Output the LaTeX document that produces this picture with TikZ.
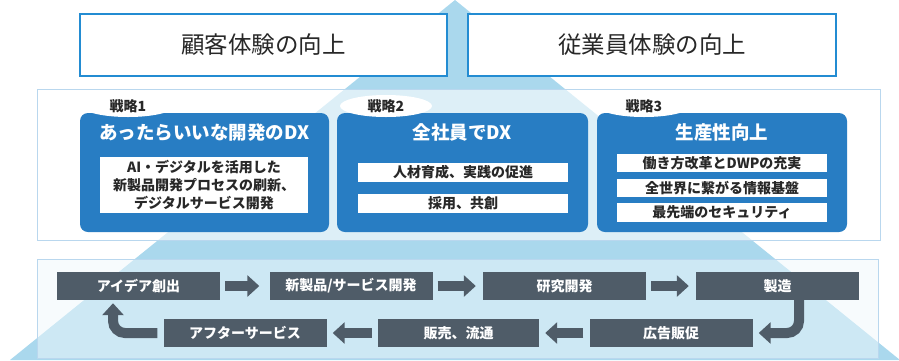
\documentclass[tikz,border=0pt]{standalone}
\usepackage{fontspec}
\setmainfont{Noto Sans CJK JP}
\usetikzlibrary{arrows.meta,shapes.geometric,calc}
\definecolor{tri}{RGB}{170,216,237}
\definecolor{topblue}{RGB}{35,140,210}
\definecolor{sblue}{RGB}{40,125,195}
\definecolor{pborder}{RGB}{185,215,238}
\definecolor{procc}{RGB}{79,92,104}
\definecolor{dtext}{RGB}{40,40,40}
\tikzset{
  topbox/.style={draw=topblue, line width=2pt, fill=white, minimum height=62pt, inner sep=0pt,
    font=\fontsize{23.5}{25}\selectfont, text=dtext},
  panel/.style={draw=pborder, line width=1pt, inner sep=0pt},
  sbox/.style={fill=sblue, rounded corners=8pt, minimum height=119pt, inner sep=0pt},
  tab/.style={ellipse, fill=white, minimum width=92pt, minimum height=22pt, inner sep=0pt,
    font=\fontsize{14}{15}\selectfont\bfseries, text=dtext},
  stitle/.style={text=white, font=\fontsize{18.5}{20}\selectfont\bfseries, inner sep=0pt},
  wbox/.style={fill=white, minimum width=210pt, minimum height=19pt, inner sep=0pt,
    font=\fontsize{14}{18}\selectfont\bfseries, text=dtext, align=center},
  pbox/.style={fill=procc, minimum width=163pt, minimum height=28pt, inner sep=0pt,
    font=\fontsize{14}{15}\selectfont\bfseries, text=white},
  barrow/.style={draw=procc, line width=10pt, -{Triangle[width=21pt,length=12pt]}},
}
\begin{document}
\begin{tikzpicture}[x=1pt,y=-1pt]
\useasboundingbox (0,0) rectangle (899,360);
% background triangle
\fill[tri] (455,0) -- (900,360) -- (10,360) -- cycle;
% top boxes
\node[topbox, minimum width=367pt] (cx) at (263.5,45) {顧客体験の向上};
\node[topbox, minimum width=368pt] (ex) at (652,45) {従業員体験の向上};
% panels
\node[panel, fill=white, fill opacity=0.6, minimum width=843pt, minimum height=151pt] (sp) at (458.5,164.5) {};
\node[panel, fill={rgb,255:red,240;green,248;blue,252}, fill opacity=0.5, minimum width=841pt, minimum height=99pt] (pp) at (457.5,308.5) {};
% strategy boxes
\node[sbox, minimum width=249pt] (s1) at (204.5,172.5) {};
\node[sbox, minimum width=251pt] (s2) at (462.5,172.5) {};
\node[sbox, minimum width=250pt] (s3) at (722,172.5) {};
\node[tab] (t1) at (128,106) {戦略1};
\node[tab] (t2) at (386,106) {戦略2};
\node[tab] (t3) at (644,106) {戦略3};
\node[stitle] (h1) at ($(s1.north)+(0,20)$) {あったらいいな開発のDX};
\node[stitle] (h2) at ($(s2.north)+(0,20)$) {全社員でDX};
\node[stitle] (h3) at ($(s3.north)+(0,20)$) {生産性向上};
% strategy contents
\node[wbox, minimum width=208pt, minimum height=56pt] (w11) at (204,185) {AI・デジタルを活用した\\新製品開発プロセスの刷新、\\デジタルサービス開発};
\node[wbox] (w21) at (463,172.5) {人材育成、実践の促進};
\node[wbox] (w22) at (463,203.5) {採用、共創};
\node[wbox, minimum height=18pt] (w31) at (722,163) {働き方改革とDWPの充実};
\node[wbox, minimum height=18pt] (w32) at (722,188) {全世界に繋がる情報基盤};
\node[wbox] (w33) at (722,212.5) {最先端のセキュリティ};
% process
\node[pbox] (p1) at (138.5,286) {アイデア創出};
\node[pbox] (p2) at (351,286) {新製品/サービス開発};
\node[pbox] (p3) at (564.5,286) {研究開発};
\node[pbox] (p4) at (777.5,286) {製造};
\node[pbox] (p5) at (671,333) {広告販促};
\node[pbox, minimum width=161pt] (p6) at (458.5,333) {販売、流通};
\node[pbox] (p7) at (245,333) {アフターサービス};
\draw[barrow] ([xshift=5pt]p1.east) -- ([xshift=-10pt]p2.west);
\draw[barrow] ([xshift=5pt]p2.east) -- ([xshift=-7pt]p3.west);
\draw[barrow] ([xshift=5pt]p3.east) -- ([xshift=-7pt]p4.west);
\draw[barrow, rounded corners=12pt] ([xshift=21.5pt]p4.south) |- ([xshift=6pt]p5.east);
\draw[barrow] ([xshift=-6pt]p5.west) -- ([xshift=6pt]p6.east);
\draw[barrow] ([xshift=-6pt]p6.west) -- ([xshift=6pt]p7.east);
\draw[barrow, rounded corners=12pt] ([xshift=-6pt]p7.west) -| ([xshift=-25.5pt,yshift=-3pt]p1.south);
\end{tikzpicture}
\end{document}
